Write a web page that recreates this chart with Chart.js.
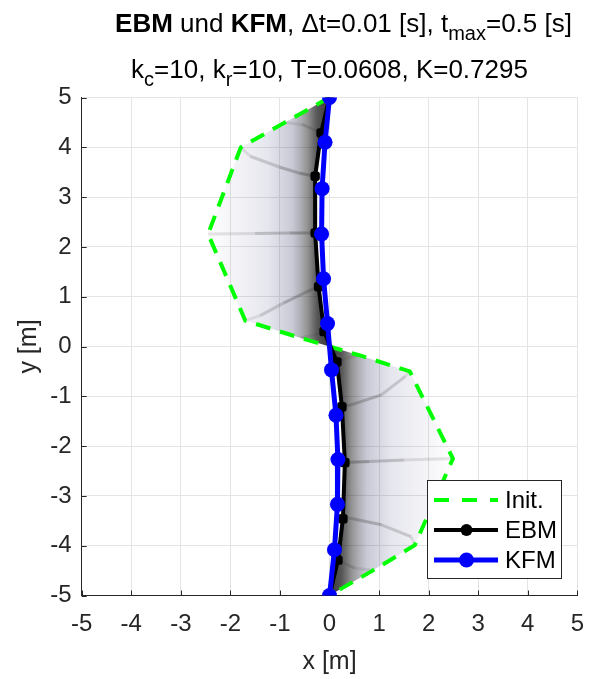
<!DOCTYPE html>
<html>
<head>
<meta charset="utf-8">
<script src="https://cdn.jsdelivr.net/npm/chart.js@4/dist/chart.umd.min.js"></script>
<style>
  html, body { margin: 0; padding: 0; background: #ffffff; }
  #wrap { width: 598px; height: 679px; position: relative; }
</style>
</head>
<body>
<div id="wrap"><canvas id="c" width="598" height="679"></canvas></div>
<script>
// ---------------- data ----------------
const xTickValues = [-5, -4, -3, -2, -1, 0, 1, 2, 3, 4, 5];
const yTickValues = [-5, -4, -3, -2, -1, 0, 1, 2, 3, 4, 5];

// initial shape (Init.)
const initX = [0.00, -0.90, -1.79, -2.45, -1.70, -0.58, 0.58, 1.62, 2.49, 1.72, 0.87, 0.00];
const initY = [5.00, 4.50, 4.00, 2.26, 0.52, 0.17, -0.17, -0.50, -2.25, -3.99, -4.50, -5.00];

// final shape EBM
const ebmX = [0.00, -0.17, -0.29, -0.29, -0.22, -0.11, 0.15, 0.25, 0.31, 0.27, 0.17, 0.00];
const ebmY = [5.00, 4.29, 3.42, 2.28, 1.20, 0.30, -0.31, -1.21, -2.33, -3.46, -4.29, -5.00];

// final shape KFM
const kfmX = [0.00, -0.09, -0.15, -0.16, -0.12, -0.04, 0.04, 0.13, 0.17, 0.16, 0.10, 0.00];
const kfmY = [5.00, 4.10, 3.17, 2.26, 1.36, 0.46, -0.47, -1.38, -2.27, -3.17, -4.08, -5.00];

// node trajectories (darker arcs inside the fan)
const nodePathsX = [
  [-0.90, -0.55, -0.30, -0.17],
  [-1.79, -1.60, -1.00, -0.60, -0.29],
  [-2.45, -1.50, -0.80, -0.29],
  [-1.70, -1.40, -0.93, -0.45, -0.22],
  [-0.58, -0.30, -0.11],
  [0.58, 0.30, 0.15],
  [1.62, 1.53, 1.05, 0.44, 0.25],
  [2.49, 1.50, 0.80, 0.31],
  [1.72, 1.65, 1.05, 0.37, 0.27],
  [0.87, 0.50, 0.28, 0.17]
];
const nodePathsY = [
  [4.50, 4.46, 4.35, 4.29],
  [4.00, 3.82, 3.60, 3.48, 3.42],
  [2.26, 2.27, 2.28, 2.28],
  [0.52, 0.62, 0.87, 1.10, 1.20],
  [0.17, 0.24, 0.30],
  [-0.17, -0.25, -0.31],
  [-0.50, -0.60, -0.97, -1.17, -1.21],
  [-2.25, -2.28, -2.31, -2.33],
  [-3.99, -3.82, -3.58, -3.44, -3.46],
  [-4.50, -4.45, -4.34, -4.29]
];

const titleLine1 = [
  {t: 'EBM', bold: true}, {t: ' und '}, {t: 'KFM', bold: true},
  {t: ', \u0394t=0.01 [s], t'}, {t: 'max', sub: true}, {t: '=0.5 [s]'}
];
const titleLine2 = [
  {t: 'k'}, {t: 'c', sub: true}, {t: '=10, k'}, {t: 'r', sub: true},
  {t: '=10, T=0.0608, K=0.7295'}
];
const xLabel = 'x [m]';
const yLabel = 'y [m]';
const legendLabels = ['Init.', 'EBM', 'KFM'];

// ---------------- helpers ----------------
const FAM = '"Liberation Sans", Arial, Helvetica, sans-serif';
const AX = '#262626';
const zip = (xs, ys) => xs.map((x, i) => ({x: x, y: ys[i]}));

// fan region = init shape followed by the EBM shape in reverse order
const fanPoints = zip(initX, initY).concat(zip(ebmX, ebmY).reverse());

function fanGradient(c) {
  const chart = c.chart;
  if (!chart.chartArea) return 'rgba(0,0,0,0.15)';
  const xs = chart.scales.x;
  const a = xs.getPixelForValue(-2.5), b = xs.getPixelForValue(2.5);
  const g = chart.ctx.createLinearGradient(a, 0, b, 0);
  const stops = [
    [0.00, 'rgba(60,60,120,0.00)'],
    [0.10, 'rgba(60,60,120,0.05)'],
    [0.25, 'rgba(50,50,120,0.12)'],
    [0.35, 'rgba(30,30,80,0.24)'],
    [0.41, 'rgba(0,0,0,0.42)'],
    [0.45, 'rgba(0,0,0,0.66)'],
    [0.50, 'rgba(0,0,0,0.78)']
  ];
  stops.forEach(s => g.addColorStop(s[0], s[1]));
  stops.slice(0, -1).reverse().forEach(s => g.addColorStop(1 - s[0], s[1]));
  return g;
}

const pathDatasets = nodePathsX.map((px, k) => ({
  label: 'path' + k,
  data: zip(px, nodePathsY[k]),
  borderColor: 'rgba(90,90,90,0.45)',
  borderWidth: 3,
  pointRadius: 0,
  fill: false,
  segment: {
    borderColor: s => {
      const n = px.length - 1;
      const f = (s.p0DataIndex + 0.5) / n;
      return 'rgba(80,80,80,' + (0.08 + 0.42 * f).toFixed(3) + ')';
    }
  }
}));

// ---------------- plugins ----------------
function drawRich(ctx, parts, cx, baseline, size, subSize, subDy) {
  let total = 0;
  parts.forEach(p => {
    ctx.font = (p.bold ? 'bold ' : '') + (p.sub ? subSize : size) + 'px ' + FAM;
    p._w = ctx.measureText(p.t).width;
    total += p._w;
  });
  let x = cx - total / 2;
  ctx.textAlign = 'left';
  ctx.textBaseline = 'alphabetic';
  parts.forEach(p => {
    ctx.font = (p.bold ? 'bold ' : '') + (p.sub ? subSize : size) + 'px ' + FAM;
    ctx.fillText(p.t, x, baseline + (p.sub ? subDy : 0));
    x += p._w;
  });
}

const decorPlugin = {
  id: 'decor',
  beforeDatasetsDraw(chart) {
    // inward tick marks on left and bottom axes
    const ctx = chart.ctx, xs = chart.scales.x, ys = chart.scales.y;
    const ca = chart.chartArea;
    ctx.save();
    ctx.strokeStyle = AX;
    ctx.lineWidth = 1;
    ctx.beginPath();
    xTickValues.forEach(v => {
      const p = Math.round(xs.getPixelForValue(v)) + 0.5;
      ctx.moveTo(p, ca.bottom); ctx.lineTo(p, ca.bottom - 5);
    });
    yTickValues.forEach(v => {
      const p = Math.round(ys.getPixelForValue(v)) + 0.5;
      ctx.moveTo(ca.left, p); ctx.lineTo(ca.left + 5, p);
    });
    ctx.stroke();
    ctx.restore();
  },
  afterDraw(chart) {
    const ctx = chart.ctx;
    const ca = chart.chartArea;
    const cx = (ca.left + ca.right) / 2;
    ctx.save();
    ctx.fillStyle = '#000000';
    drawRich(ctx, titleLine1, cx + 14, 32, 26, 20, 8);
    drawRich(ctx, titleLine2, cx, 78, 26, 20, 8);

    // axis labels
    ctx.fillStyle = AX;
    ctx.font = '25px ' + FAM;
    ctx.textAlign = 'center';
    ctx.textBaseline = 'alphabetic';
    ctx.fillText(xLabel, cx, 669);
    ctx.save();
    ctx.translate(36, (ca.top + ca.bottom) / 2);
    ctx.rotate(-Math.PI / 2);
    ctx.fillText(yLabel, 0, 0);
    ctx.restore();

    // legend
    const bx = 427.5, by = 480.5, bw = 134, bh = 98;
    ctx.fillStyle = '#ffffff';
    ctx.fillRect(bx, by, bw, bh);
    ctx.strokeStyle = AX;
    ctx.lineWidth = 1;
    ctx.strokeRect(bx, by, bw, bh);
    const rows = [500, 530, 560];
    const x0 = 434, x1 = 498, xm = 466.5;
    // Init.
    ctx.save();
    ctx.strokeStyle = '#00ff00';
    ctx.lineWidth = 4;
    ctx.setLineDash([15, 13]);
    ctx.beginPath(); ctx.moveTo(x0, rows[0]); ctx.lineTo(x1, rows[0]); ctx.stroke();
    ctx.restore();
    // EBM
    ctx.strokeStyle = '#000000'; ctx.lineWidth = 4;
    ctx.beginPath(); ctx.moveTo(x0, rows[1]); ctx.lineTo(x1, rows[1]); ctx.stroke();
    ctx.fillStyle = '#000000';
    ctx.beginPath(); ctx.arc(xm, rows[1], 6, 0, Math.PI * 2); ctx.fill();
    // KFM
    ctx.strokeStyle = '#0000ff'; ctx.lineWidth = 5;
    ctx.beginPath(); ctx.moveTo(x0, rows[2]); ctx.lineTo(x1, rows[2]); ctx.stroke();
    ctx.fillStyle = '#0000ff';
    ctx.beginPath(); ctx.arc(xm, rows[2], 7.5, 0, Math.PI * 2); ctx.fill();
    // texts
    ctx.fillStyle = '#000000';
    ctx.font = '24px ' + FAM;
    ctx.textAlign = 'left';
    ctx.textBaseline = 'middle';
    legendLabels.forEach((t, i) => ctx.fillText(t, 505, rows[i] + 1));
    ctx.restore();
  }
};

// ---------------- chart ----------------
const datasets = [
  {
    label: 'KFM', data: zip(kfmX, kfmY),
    borderColor: '#0000ff', backgroundColor: '#0000ff', borderWidth: 5,
    pointRadius: 7.5, pointStyle: 'circle', pointBorderWidth: 0, fill: false
  },
  {
    label: 'EBM', data: zip(ebmX, ebmY),
    borderColor: '#000000', backgroundColor: '#000000', borderWidth: 4,
    pointRadius: 5.5, pointStyle: 'rectRounded', pointBorderWidth: 0, fill: false
  },
  {
    label: 'Init.', data: zip(initX, initY),
    borderColor: '#00ff00', borderWidth: 4, borderDash: [15, 10],
    pointRadius: 0, fill: false
  }
].concat(pathDatasets).concat([
  {
    label: 'fan', data: fanPoints,
    borderWidth: 0, borderColor: 'rgba(0,0,0,0)',
    backgroundColor: fanGradient, pointRadius: 0, fill: 'shape'
  }
]);

new Chart(document.getElementById('c'), {
  type: 'line',
  data: { datasets: datasets },
  options: {
    responsive: false,
    animation: false,
    events: [],
    layout: { padding: { top: 97.5, right: 20.3, bottom: 0, left: 0 } },
    plugins: {
      legend: { display: false },
      title: { display: false },
      tooltip: { enabled: false }
    },
    elements: { line: { tension: 0 } },
    scales: {
      x: {
        type: 'linear', min: -5, max: 5,
        afterFit: s => { s.height = 83.5; },
        afterBuildTicks: s => { s.ticks = xTickValues.map(v => ({value: v})); },
        grid: { color: '#e4e4e4', lineWidth: 1, drawTicks: false },
        border: { display: true, color: AX, width: 1 },
        ticks: { color: AX, font: { family: FAM, size: 24 }, padding: 14, maxRotation: 0 }
      },
      y: {
        type: 'linear', min: -5, max: 5,
        afterFit: s => { s.width = 81.7; },
        afterBuildTicks: s => { s.ticks = yTickValues.map(v => ({value: v})); },
        grid: { color: '#e4e4e4', lineWidth: 1, drawTicks: false },
        border: { display: true, color: AX, width: 1 },
        ticks: { color: AX, font: { family: FAM, size: 24 }, padding: 10 }
      }
    }
  },
  plugins: [decorPlugin]
});
</script>
</body>
</html>
